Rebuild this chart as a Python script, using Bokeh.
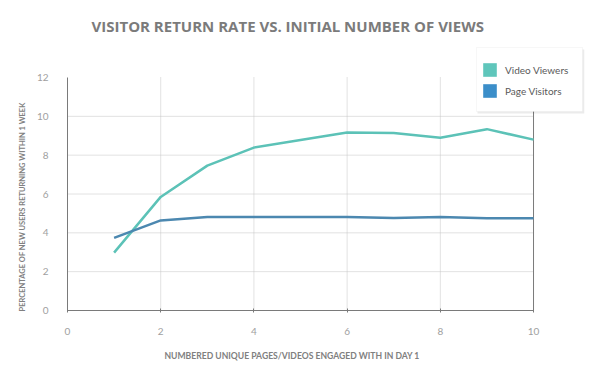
import numpy as np
from bokeh.plotting import figure
from bokeh.models import (Range1d, FixedTicker, Legend, LegendItem,
                          BoxAnnotation, Title)
from bokeh.embed import file_html
from bokeh.resources import INLINE

# ---- data ----
views = [1, 2, 3, 4, 5, 6, 7, 8, 9, 10]
video_viewers = [2.98, 5.85, 7.46, 8.39, 8.78, 9.17, 9.14, 8.90, 9.34, 8.80]
page_visitors = [3.74, 4.64, 4.81, 4.82, 4.82, 4.81, 4.77, 4.82, 4.75, 4.75]
x_ticks = [0, 2, 4, 6, 8, 10]
y_ticks = [0, 2, 4, 6, 8, 10, 12]
x_grid = [2, 4, 6, 8]
y_grid = [2, 4, 6, 8, 10]
series_names = ["Video Viewers", "Page Visitors"]

TEAL_LINE = "#5cc2b7"
BLUE_LINE = "#4c88b0"
TEAL_SW = "#5fc6bb"
BLUE_SW = "#3b8ec9"
FONT = "Lato"
GRID = "#c4c4c4"
AXIS = "#7a7a7a"

x_min, x_max = x_ticks[0], x_ticks[-1]
y_min, y_max = y_ticks[0], y_ticks[-1]

# frame widened/heightened so the legend box over the top-right corner is
# not clipped; axes and grid lines are bounded to the 0-10 / 0-12 area.
p = figure(frame_width=517, frame_height=264, output_backend="svg",
           toolbar_location=None,
           x_range=Range1d(0, 11.094), y_range=Range1d(0, 13.597),
           min_border_left=67, min_border_right=8, min_border_top=46,
           min_border_bottom=69)
p.outline_line_color = None
p.background_fill_color = "white"
p.border_fill_color = "white"
p.xgrid.visible = False
p.ygrid.visible = False

# title
p.title.text = "VISITOR RETURN RATE VS. INITIAL NUMBER OF VIEWS"
p.title.text_font = "Open Sans"
p.title.text_font_style = "bold"
p.title.text_font_size = "15px"
p.title.text_color = "#7b7b7b"
p.title.align = "left"
p.title.offset = 24
p.title.standoff = 21

# axes
xa = p.xaxis[0]
xa.bounds = (x_min, x_max)
xa.ticker = FixedTicker(ticks=x_ticks)
xa.axis_line_color = AXIS
xa.major_tick_line_color = AXIS
xa.major_tick_in = 2
xa.major_tick_out = 2
xa.minor_tick_line_color = None
xa.major_label_text_font = FONT
xa.major_label_text_font_size = "10px"
xa.major_label_text_color = "#a0a0a0"
xa.major_label_standoff = 15

ya = p.yaxis[0]
ya.bounds = (y_min, y_max)
ya.ticker = FixedTicker(ticks=y_ticks)
ya.axis_line_color = AXIS
ya.major_tick_line_color = None
ya.major_tick_in = 0
ya.major_tick_out = 0
ya.minor_tick_line_color = None
ya.major_label_text_font = FONT
ya.major_label_text_font_size = "10px"
ya.major_label_text_color = "#a0a0a0"
ya.major_label_standoff = 19

# axis titles (as Titles so they can be positioned like the reference)
xlab = Title(text="NUMBERED UNIQUE PAGES/VIDEOS ENGAGED WITH IN DAY 1",
             align="left", offset=97, standoff=23,
             text_font=FONT, text_font_style="bold", text_font_size="8.6px",
             text_color="#808080")
p.add_layout(xlab, "below")
ylab = Title(text="PERCENTAGE OF NEW USERS RETURNING WITHIN 1 WEEK",
             align="left", offset=-1, standoff=13,
             text_font=FONT, text_font_style="bold", text_font_size="7.5px",
             text_color="#808080")
p.add_layout(ylab, "left")

# dotted grid lines, bounded to the data area
p.segment(x0=x_grid, y0=[y_min] * len(x_grid), x1=x_grid, y1=[y_max] * len(x_grid),
          line_color=GRID, line_dash="1 1", line_width=1)
p.segment(x0=[x_min] * len(y_grid), y0=y_grid, x1=[x_max] * len(y_grid), y1=y_grid,
          line_color=GRID, line_dash="1 1", line_width=1)

# right border of the plotting area (at the last x tick)
p.segment(x0=[x_max], y0=[y_min], x1=[x_max], y1=[y_max],
          line_color=AXIS, line_width=1)

# lines
p.line(views, video_viewers, line_color=TEAL_LINE, line_width=2.5)
p.line(views, page_visitors, line_color=BLUE_LINE, line_width=2.5)

# legend box (shadow + white box)
shadow = BoxAnnotation(left=410, right=517, top=261, bottom=197,
                       left_units="screen", right_units="screen",
                       top_units="screen", bottom_units="screen",
                       fill_color="#000000", fill_alpha=0.08, line_color=None)
box = BoxAnnotation(left=409, right=515, top=263, bottom=199,
                    left_units="screen", right_units="screen",
                    top_units="screen", bottom_units="screen",
                    fill_color="white", fill_alpha=1.0,
                    line_color="#e6e6e6", line_width=1)
p.add_layout(shadow)
p.add_layout(box)

sw1 = p.rect(x=[np.nan], y=[np.nan], width=1, height=1, fill_color=TEAL_SW,
             line_color=None)
sw2 = p.rect(x=[np.nan], y=[np.nan], width=1, height=1, fill_color=BLUE_SW,
             line_color=None)

legend = Legend(items=[LegendItem(label=series_names[0], renderers=[sw1]),
                       LegendItem(label=series_names[1], renderers=[sw2])],
                location=(414, 211), orientation="vertical",
                glyph_width=17, glyph_height=17, label_height=17,
                spacing=4, padding=0, margin=0, label_standoff=7,
                label_text_font=FONT, label_text_font_size="10px",
                label_text_color="#5a5a5a",
                background_fill_alpha=0, border_line_color=None)
p.add_layout(legend)

open("out.html", "w").write(file_html(p, INLINE))
